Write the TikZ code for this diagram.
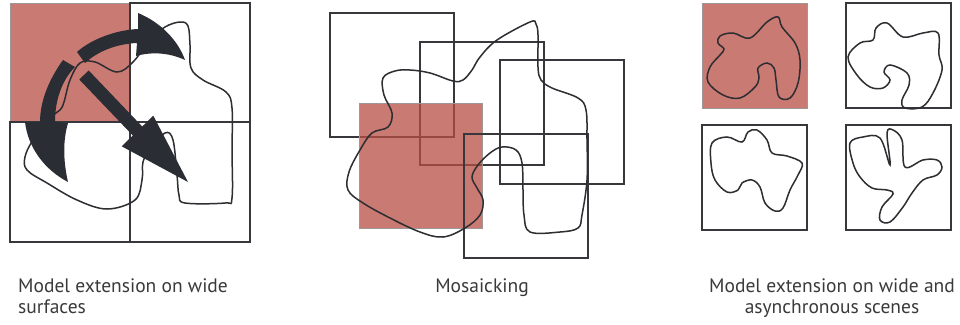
\documentclass[tikz,border=0pt]{standalone}
\usepackage{fontspec}
\setmainfont{PT Sans}
\definecolor{redc}{RGB}{201,122,115}
\definecolor{redm}{RGB}{183,78,68}
\definecolor{redb}{RGB}{160,150,150}
\definecolor{arrc}{RGB}{42,45,51}
\definecolor{sqc}{RGB}{55,55,60}
\definecolor{blobc}{RGB}{45,45,50}
\definecolor{txtc}{RGB}{58,58,58}
\begin{document}
\begin{tikzpicture}[x=1pt,y=-1pt,
  sq/.style={draw=sqc,line width=2pt},
  redsq/.style={fill=redc,draw=redb,line width=1pt},
  blob/.style={draw=blobc,line width=1.5pt,smooth cycle,tension=0.6},
  arr/.style={fill=arrc},
  lbl/.style={font=\fontsize{19.5}{21}\selectfont,text=txtc,inner sep=0pt}]
\useasboundingbox (0,0) rectangle (960,324);
\fill[white] (0,0) rectangle (960,324);
% ---------- left panel ----------
\draw[redsq] (10,3) rectangle (130,122);
\draw[sq] (130,3) rectangle (250,122);
\draw[sq] (10,122) rectangle (130,242);
\draw[sq] (130,122) rectangle (250,242);
\draw[blob] plot coordinates {(117,72) (133,62) (150,40) (165,27) (180,22) (188,26) (190,45) (191,68) (203,80) (226,92) (232,108) (232,150) (232,198) (225,203) (185,203) (179,195) (177,175) (173,140) (165,133) (150,150) (143,162) (142,180) (135,200) (107,209) (77,200) (47,183) (27,170) (25,157) (33,140) (50,118) (60,110) (64,102) (70,80) (80,63) (95,62)};
\fill[arr] (77,52) .. controls (90,40) and (115,30) .. (138,29) -- (138,13) .. controls (160,22) and (178,40) .. (185,60) .. controls (168,52) and (150,52) .. (136,56) -- (137,43) .. controls (115,44) and (97,52) .. (85,63) -- cycle;
\fill[arr] (63,60) .. controls (50,78) and (40,100) .. (40,122) -- (25,122) .. controls (28,148) and (45,170) .. (68,182) .. controls (63,160) and (63,140) .. (68,123) -- (55,122) .. controls (55,100) and (62,80) .. (75,67) -- cycle;
\fill[arr] (88.7,70.5) -- (142.2,126.5) -- (153.3,115.7) -- (188,182) -- (121.7,146.3) -- (132.8,135.5) -- (79.3,79.5) -- cycle;
% ---------- middle panel ----------
\draw[sq] (330,13) rectangle (454,137);
\draw[sq] (420,42) rectangle (544,165);
\fill[redm,fill opacity=0.75] (359,103) rectangle (482,228);
\draw[redb,line width=1pt] (359,103) rectangle (482,228);
\draw[sq] (500,60) rectangle (624,184);
\draw[sq] (464,134) rectangle (588,258);
\draw[blob] plot coordinates {(383,78) (395,71) (410,70) (430,73) (453,81) (463,80) (472,70) (480,57) (497,40) (530,22) (536,24) (538,35) (538,67) (541,80) (552,88) (578,98) (586,110) (587,140) (587,180) (582,215) (578,228) (560,232) (530,232) (524,215) (523,190) (522,163) (516,150) (502,147) (490,153) (478,165) (472,177) (477,188) (483,200) (480,215) (465,228) (443,237) (420,232) (390,218) (363,203) (348,190) (349,172) (360,150) (372,133) (388,127) (392,113) (384,95)};
% ---------- right panel ----------
\draw[redsq] (702,3) rectangle (807,108);
\draw[sq] (846,3) rectangle (951,108);
\draw[sq] (702,125) rectangle (807,230);
\draw[sq] (846,125) rectangle (951,230);
\draw[blob] plot coordinates {(720,36) (733,33) (750,38) (767,22) (778,17) (782,27) (795,43) (800,60) (798,83) (790,98) (779,97) (776,80) (774,68) (767,63) (758,68) (759,78) (755,87) (740,98) (723,95) (708,82) (710,67) (720,55) (724,49) (718,43)};
\draw[blob] plot coordinates {(848,57) (860,43) (873,40) (876,28) (887,23) (903,37) (923,33) (938,33) (939,55) (942,70) (933,93) (922,107) (905,108) (902,100) (909,85) (907,73) (890,65) (884,72) (890,80) (883,88) (870,87) (857,75)};
\draw[blob] plot coordinates {(712,143) (727,137) (742,142) (748,132) (757,130) (767,140) (772,153) (787,156) (802,163) (798,175) (790,190) (783,208) (775,211) (765,203) (760,187) (752,180) (742,183) (738,190) (727,192) (715,180) (711,163)};
\draw[blob] plot coordinates {(850,143) (863,137) (880,138) (890,165) (887,133) (893,130) (902,140) (905,167) (923,160) (937,160) (942,167) (937,175) (923,180) (912,193) (903,207) (890,222) (880,220) (882,207) (893,194) (887,190) (872,188) (860,177) (853,163)};
% ---------- labels ----------
\node[lbl,anchor=base west,align=left] (l1) at (18,313) {Model extension on wide\\surfaces};
\node[lbl,anchor=base] (l2) at (482,292) {Mosaicking};
\node[lbl,anchor=base,align=center] (l3) at (832,313) {Model extension on wide and\\asynchronous scenes};
\end{tikzpicture}
\end{document}
